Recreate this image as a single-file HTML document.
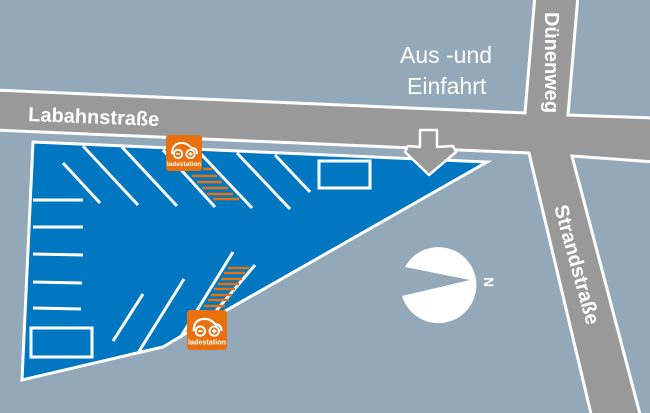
<!DOCTYPE html>
<html><head><meta charset="utf-8"><style>
html,body{margin:0;padding:0;background:#93a9b9;}
svg{display:block}
text{font-family:"Liberation Sans",sans-serif;fill:#fff}
</style></head><body>
<svg width="650" height="413" viewBox="0 0 650 413" xmlns="http://www.w3.org/2000/svg">
<defs>
<symbol id="ic" viewBox="0 0 36 36">
<rect x="0" y="0" width="36" height="36" rx="3" fill="#e8700f"/>
<path d="M6 19 C6 11 10 8 16 8 C22 8 24 12 26 13 C30 13 31 16 31 19" fill="none" stroke="#fff" stroke-width="2"/>
<circle cx="12" cy="19" r="4.2" fill="none" stroke="#fff" stroke-width="1.8"/>
<circle cx="24.5" cy="19" r="4.2" fill="none" stroke="#fff" stroke-width="1.8"/>
<path d="M10 19h4M22.5 19h4M24.5 17v4" stroke="#fff" stroke-width="1.5"/>
<text x="18" y="31" font-size="6.5" font-weight="bold" text-anchor="middle">ladestation</text>
</symbol>
</defs>
<rect width="650" height="413" fill="#93a9b9"/>
<g fill="#999" stroke="#fff" stroke-width="3" stroke-linejoin="miter">
<polygon points="-5,90 525,113 535,-5 578,-5 568,115 655,118 655,162 572,156 641,418 592,418 529,153 -5,130"/>
</g>
<polygon points="33,142 487,162 183,335 163,347 137,353 22,380" fill="#0077c0" stroke="#fff" stroke-width="3" stroke-linejoin="miter"/>
<g stroke="#fff" stroke-width="3" fill="none">
<line x1="63" y1="163" x2="100" y2="203"/>
<line x1="83" y1="146" x2="138" y2="205"/>
<line x1="122" y1="147" x2="177" y2="206"/>
<line x1="163" y1="150" x2="215" y2="207"/>
<line x1="200" y1="153" x2="252" y2="208"/>
<line x1="237" y1="153" x2="290" y2="209"/>
<line x1="275" y1="155" x2="310" y2="192"/>
<rect x="319" y="161" width="51" height="27"/>
<line x1="33" y1="200" x2="83" y2="200"/>
<line x1="33" y1="227" x2="83" y2="227"/>
<line x1="33" y1="254" x2="83" y2="255"/>
<line x1="33" y1="282" x2="82" y2="283"/>
<line x1="33" y1="308" x2="81" y2="309"/>
<rect x="31" y="328" width="61" height="29"/>
<line x1="113" y1="341" x2="143" y2="294"/>
<line x1="138" y1="353" x2="184" y2="279"/>
<line x1="180" y1="338" x2="233" y2="252"/>
<line x1="210" y1="318" x2="255" y2="265"/>
</g>
<g stroke="#e8700f" stroke-width="2.5">
<line x1="203" y1="169" x2="212" y2="169"/>
<line x1="192" y1="176" x2="217" y2="176"/>
<line x1="197" y1="182" x2="222" y2="182"/>
<line x1="202" y1="188" x2="228" y2="188"/>
<line x1="207" y1="194" x2="233" y2="194"/>
<line x1="213" y1="199" x2="239" y2="199"/>
<line x1="228" y1="268" x2="249" y2="268"/>
<line x1="224" y1="273" x2="245" y2="273"/>
<line x1="221" y1="279" x2="242" y2="279"/>
<line x1="218" y1="284" x2="239" y2="284"/>
<line x1="214" y1="289" x2="235" y2="289"/>
<line x1="211" y1="295" x2="232" y2="295"/>
<line x1="208" y1="300" x2="229" y2="300"/>
<line x1="204" y1="306" x2="225" y2="306"/>
</g>
<use href="#ic" x="166" y="135" width="36" height="36"/>
<use href="#ic" x="187" y="310" width="40" height="40"/>
<polygon points="420,130 437,130 437,147 453,146 456,152 429,175 405,152 408,146 420,147" fill="#999" stroke="#fff" stroke-width="2.5" stroke-linejoin="round"/>
<path d="M405,267 A38,38 0 1 1 402,296 L470,280 Z" fill="#fff"/>
<text x="0" y="0" font-size="14" font-weight="bold" transform="translate(484,282) rotate(90)" text-anchor="middle">N</text>
<text x="28" y="121" font-size="20" font-weight="bold" transform="rotate(2.2 28 121)">Labahnstraße</text>
<text x="400" y="63" font-size="23">Aus -und</text>
<text x="407" y="94" font-size="23">Einfahrt</text>
<text x="0" y="0" font-size="20" font-weight="bold" transform="translate(545,12) rotate(90)">Dünenweg</text>
<text x="0" y="0" font-size="20" font-weight="bold" transform="translate(554,207) rotate(74.5)">Strandstraße</text>
</svg>
</body></html>
